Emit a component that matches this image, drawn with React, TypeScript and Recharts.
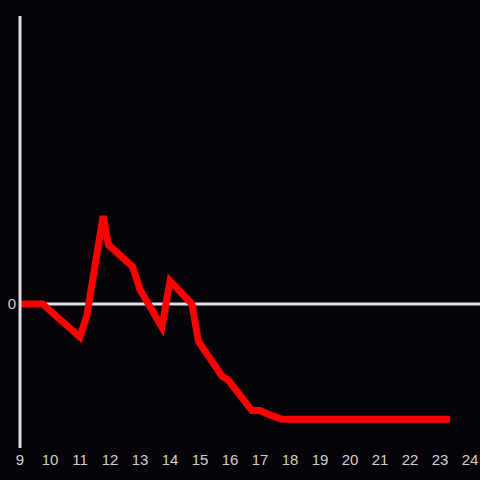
import { LineChart, Line, XAxis, YAxis, ReferenceLine } from "recharts";

const hours = [9, 9.75, 11, 11.23, 11.77, 11.95, 12.75, 13, 13.73, 14, 14.73, 14.95, 15.73, 15.95, 16.73, 17, 17.33, 17.73, 23.33];
const values = [0, 0, -0.23, -0.08, 0.61, 0.41, 0.26, 0.1, -0.16, 0.16, 0, -0.26, -0.5, -0.53, -0.74, -0.74, -0.77, -0.8, -0.8];
const xTicks = [9, 10, 11, 12, 13, 14, 15, 16, 17, 18, 19, 20, 21, 22, 23, 24];
const yTicks = [0];

const data = hours.map((h, i) => ({ h, v: values[i] }));

const axisColor = "#e0e0e0";
const tickStyle = { fill: "#d0d0d0", fontSize: 15, fontFamily: "Liberation Sans, Arial, sans-serif" };

export default function App() {
  return (
    <div style={{ position: "fixed", left: 0, top: 0, width: 480, height: 480, background: "#050307" }}>
      <LineChart width={480} height={480} data={data} margin={{ top: 16, right: 0, bottom: 0, left: 0 }}>
        <XAxis
          dataKey="h"
          type="number"
          domain={[9, 24 + 1 / 3]}
          ticks={xTicks}
          axisLine={false}
          tickLine={false}
          tick={{ ...tickStyle, dy: -2 }}
          height={32}
          interval={0}
        />
        <YAxis
          type="number"
          domain={[-1, 2]}
          ticks={yTicks}
          width={20}
          axisLine={{ stroke: axisColor, strokeWidth: 3 }}
          tickLine={false}
          tick={{ ...tickStyle, dx: 4 }}
        />
        <ReferenceLine y={0} stroke={axisColor} strokeWidth={3} />
        <Line
          dataKey="v"
          stroke="#ff0000"
          strokeWidth={7}
          dot={false}
          type="linear"
          isAnimationActive={false}
        />
      </LineChart>
    </div>
  );
}
